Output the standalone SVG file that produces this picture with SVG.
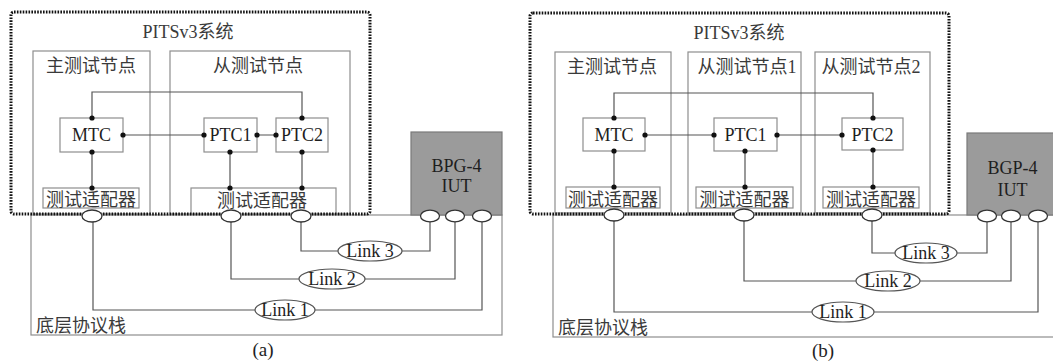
<svg xmlns="http://www.w3.org/2000/svg" width="1053" height="362" viewBox="0 0 1053 362">
<style>
.bg{fill:#fff}
.box{fill:none;stroke:#8e8e8e;stroke-width:1.2}
.sys{fill:none;stroke:#111;stroke-width:3;stroke-dasharray:1.6 1.3}
.comp{fill:#fff;stroke:#8e8e8e;stroke-width:1.2}
.iut{fill:#9b9b9b;stroke:#7a7a7a;stroke-width:1.2}
.ln{fill:none;stroke:#555;stroke-width:1.2}
.dot{fill:#111}
.port{fill:#fff;stroke:#333;stroke-width:1.3}
.lab{fill:#fff;stroke:#555;stroke-width:1.2}
.cjk{font-family:"Liberation Serif","Noto Sans CJK SC",sans-serif;font-size:18px;fill:#3a3a3a;text-anchor:middle}
.ser{font-family:"Liberation Serif",serif;font-size:18px;fill:#1e1e1e;text-anchor:middle}
.cap{font-family:"Liberation Serif",serif;font-size:19px;fill:#1e1e1e;text-anchor:middle}
</style>
<rect class="bg" x="0" y="0" width="1053" height="362"/>

<!-- ===== Panel (a) ===== -->
<g id="stack-a"><rect class="box" x="31" y="215" width="471" height="120"/><text class="cjk" x="81" y="332">底层协议栈</text></g>
<g id="master-node-a"><rect class="box" x="33" y="51" width="117" height="163"/><text class="cjk" x="91" y="72">主测试节点</text></g>
<g id="slave-node-a"><rect class="box" x="170" y="51" width="180" height="163"/><text class="cjk" x="258" y="72">从测试节点</text></g>
<g id="adapter-m-a"><rect class="comp" x="43" y="188" width="96" height="20"/><text class="cjk" x="91" y="206">测试适配器</text></g>
<g id="adapter-s-a"><rect class="comp" x="191" y="188" width="145" height="26"/><text class="cjk" x="262" y="207">测试适配器</text></g>
<g id="system-a"><rect class="sys" x="11" y="12" width="359" height="202" rx="3"/><text class="cjk" x="188" y="38">PITSv3系统</text></g>
<g id="mtc-a"><rect class="comp" x="60" y="118" width="63" height="34"/><text class="ser" x="91.5" y="141">MTC</text></g>
<g id="ptc1-a"><rect class="comp" x="204" y="118" width="53" height="34"/><text class="ser" x="230.5" y="141">PTC1</text></g>
<g id="ptc2-a"><rect class="comp" x="276" y="118" width="52" height="34"/><text class="ser" x="302" y="141">PTC2</text></g>
<g id="iut-a"><rect class="iut" x="411" y="132" width="91" height="83"/><text class="ser" x="456.5" y="172">BPG-4</text><text class="ser" x="456.5" y="192">IUT</text></g>

<!-- ===== Panel (b) ===== -->
<g id="stack-b"><rect class="box" x="553" y="215" width="505" height="122"/><text class="cjk" x="603" y="334">底层协议栈</text></g>
<g id="master-node-b"><rect class="box" x="555" y="52" width="116" height="161"/><text class="cjk" x="612" y="73">主测试节点</text></g>
<g id="slave-node1-b"><rect class="box" x="688" y="52" width="113" height="161"/><text class="cjk" x="747" y="73">从测试节点1</text></g>
<g id="slave-node2-b"><rect class="box" x="815" y="52" width="115" height="161"/><text class="cjk" x="871" y="73">从测试节点2</text></g>
<g id="adapter-m-b"><rect class="comp" x="566" y="187" width="94" height="21"/><text class="cjk" x="613" y="206">测试适配器</text></g>
<g id="adapter-s1-b"><rect class="comp" x="696" y="187" width="97" height="21"/><text class="cjk" x="744.5" y="206">测试适配器</text></g>
<g id="adapter-s2-b"><rect class="comp" x="823" y="187" width="96" height="21"/><text class="cjk" x="871" y="206">测试适配器</text></g>
<g id="system-b"><rect class="sys" x="530" y="13" width="419" height="201" rx="3"/><text class="cjk" x="739" y="39">PITSv3系统</text></g>
<g id="mtc-b"><rect class="comp" x="583" y="118" width="62" height="33"/><text class="ser" x="614" y="141">MTC</text></g>
<g id="ptc1-b"><rect class="comp" x="714" y="118" width="63" height="33"/><text class="ser" x="745.5" y="141">PTC1</text></g>
<g id="ptc2-b"><rect class="comp" x="842" y="118" width="61" height="32"/><text class="ser" x="872.5" y="141">PTC2</text></g>
<g id="iut-b"><rect class="iut" x="967" y="133" width="91" height="82"/><text class="ser" x="1012.5" y="174">BGP-4</text><text class="ser" x="1012.5" y="196">IUT</text></g>

<!-- ===== Connectors ===== -->
<g id="connectors">
  <path class="ln" d="M92 118V92H302V118M123 135H204M257 135H276M92 152V188M230 152V188M302 152V188"/>
  <path class="ln" d="M301 216V251H430V216M231 216V279H455V216M93 216V310H482V216"/>
  <path class="ln" d="M614 118V93H873V118M645 135H714M777 135H842M614 151V187M745 151V187M873 150V187"/>
  <path class="ln" d="M872 215V253H987V216M744 215V281H1011V216M614 215V312H1038V216"/>
  <g class="dot">
    <circle cx="92" cy="118" r="2.6"/><circle cx="92" cy="152" r="2.6"/><circle cx="123" cy="135" r="2.6"/>
    <circle cx="204" cy="135" r="2.6"/><circle cx="257" cy="135" r="2.6"/><circle cx="276" cy="135" r="2.6"/>
    <circle cx="302" cy="118" r="2.6"/><circle cx="230" cy="152" r="2.6"/><circle cx="302" cy="152" r="2.6"/>
    <circle cx="92" cy="188" r="2.6"/><circle cx="230" cy="188" r="2.6"/><circle cx="302" cy="188" r="2.6"/>
    <circle cx="614" cy="118" r="2.6"/><circle cx="614" cy="151" r="2.6"/><circle cx="645" cy="135" r="2.6"/>
    <circle cx="714" cy="135" r="2.6"/><circle cx="777" cy="135" r="2.6"/><circle cx="842" cy="135" r="2.6"/>
    <circle cx="873" cy="118" r="2.6"/><circle cx="745" cy="151" r="2.6"/><circle cx="873" cy="150" r="2.6"/>
    <circle cx="614" cy="187" r="2.6"/><circle cx="745" cy="187" r="2.6"/><circle cx="873" cy="187" r="2.6"/>
  </g>
  <g class="port">
    <ellipse cx="92" cy="216" rx="10" ry="6"/><ellipse cx="231" cy="216" rx="10" ry="6"/><ellipse cx="301" cy="216" rx="10" ry="6"/>
    <ellipse cx="430" cy="216" rx="9.5" ry="5.8"/><ellipse cx="455" cy="216" rx="9.5" ry="5.8"/><ellipse cx="482" cy="216" rx="9.5" ry="5.8"/>
    <ellipse cx="614" cy="215" rx="10" ry="6"/><ellipse cx="744" cy="215" rx="10" ry="6"/><ellipse cx="872" cy="215" rx="10" ry="6"/>
    <ellipse cx="987" cy="216" rx="9.5" ry="5.8"/><ellipse cx="1011" cy="216" rx="9.5" ry="5.8"/><ellipse cx="1038" cy="216" rx="9.5" ry="5.8"/>
  </g>
  <g id="link3-a"><ellipse class="lab" cx="370" cy="251" rx="32" ry="10"/><text class="ser" x="370" y="257">Link 3</text></g>
  <g id="link2-a"><ellipse class="lab" cx="332" cy="279" rx="33" ry="10"/><text class="ser" x="332" y="285">Link 2</text></g>
  <g id="link1-a"><ellipse class="lab" cx="285" cy="310" rx="30" ry="10"/><text class="ser" x="285" y="316">Link 1</text></g>
  <g id="link3-b"><ellipse class="lab" cx="926" cy="253" rx="31" ry="10"/><text class="ser" x="926" y="259">Link 3</text></g>
  <g id="link2-b"><ellipse class="lab" cx="888" cy="281" rx="32" ry="10"/><text class="ser" x="888" y="287">Link 2</text></g>
  <g id="link1-b"><ellipse class="lab" cx="843" cy="312" rx="31" ry="10"/><text class="ser" x="843" y="318">Link 1</text></g>
</g>

<text class="cap" x="263" y="356">(a)</text>
<text class="cap" x="823" y="357">(b)</text>
</svg>
